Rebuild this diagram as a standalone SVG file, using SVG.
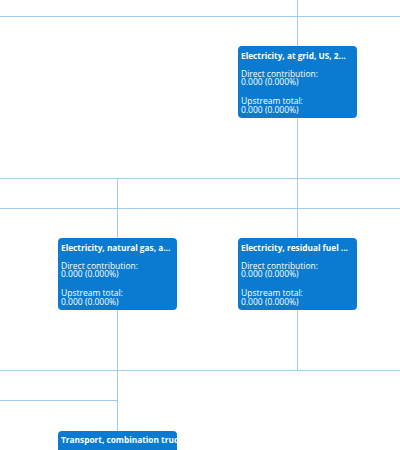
<svg xmlns="http://www.w3.org/2000/svg" width="400" height="450" viewBox="0 0 400 450">
<style>
.edge{stroke:#9fcdee;stroke-width:1;fill:none}
.box{fill:#0a7bd0}
.t{font-family:"Open Sans","Noto Sans","Liberation Sans",sans-serif;fill:#fff;font-size:8.5px}
.b{font-weight:bold;font-size:8.3px}
</style>
<defs>
<clipPath id="c4"><rect x="58" y="431" width="119" height="72" rx="4"/></clipPath>
</defs>
<rect width="400" height="450" fill="#fff"/>
<g id="connectors">
<path class="edge" d="M0 16.5H400M297.5 0V46M297.5 118V238M0 178.5H400M0 208.5H400M117.5 178V238M297.5 310V370M117.5 310V431M0 370.5H400M0 400.5H117.5"/>
</g>
<g id="n1">
<rect class="box" x="238" y="46" width="119" height="72" rx="4"/>
<text class="t b" x="241" y="58.5">Electricity, at grid, US, 2...</text>
<text class="t" x="241" y="76.5">Direct contribution:</text>
<text class="t" x="241" y="85">0.000 (0.000%)</text>
<text class="t" x="241" y="104">Upstream total:</text>
<text class="t" x="241" y="112.5">0.000 (0.000%)</text>
</g>
<g id="n2">
<rect class="box" x="58" y="238" width="119" height="72" rx="4"/>
<text class="t b" x="61" y="250.5">Electricity, natural gas, a...</text>
<text class="t" x="61" y="268.5">Direct contribution:</text>
<text class="t" x="61" y="277">0.000 (0.000%)</text>
<text class="t" x="61" y="296">Upstream total:</text>
<text class="t" x="61" y="304.5">0.000 (0.000%)</text>
</g>
<g id="n3">
<rect class="box" x="238" y="238" width="119" height="72" rx="4"/>
<text class="t b" x="241" y="250.5">Electricity, residual fuel ...</text>
<text class="t" x="241" y="268.5">Direct contribution:</text>
<text class="t" x="241" y="277">0.000 (0.000%)</text>
<text class="t" x="241" y="296">Upstream total:</text>
<text class="t" x="241" y="304.5">0.000 (0.000%)</text>
</g>
<g id="n4">
<rect class="box" x="58" y="431" width="119" height="72" rx="4"/>
<g clip-path="url(#c4)">
<text class="t b" x="61" y="443">Transport, combination truck, diesel</text>
</g>
</g>
</svg>
